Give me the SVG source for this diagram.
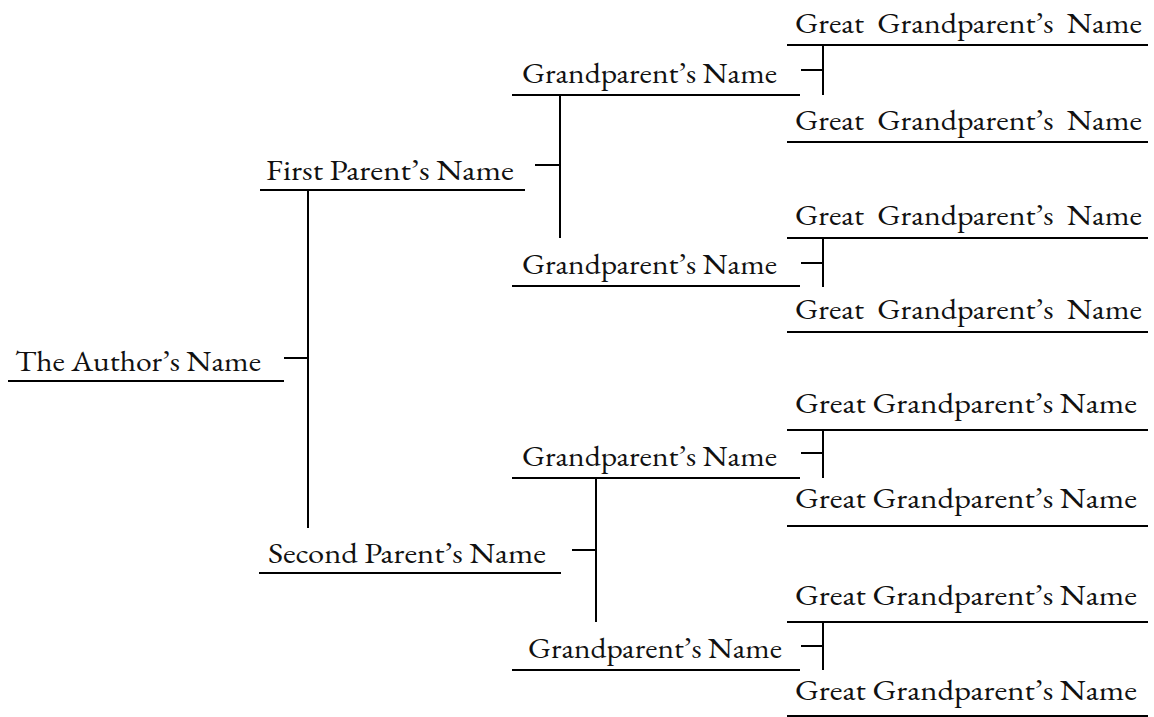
<svg xmlns="http://www.w3.org/2000/svg" width="1154" height="717" viewBox="0 0 1154 717">
  <style>
    .name { font-family: "EB Garamond", Garamond, "Liberation Serif", serif; font-size: 28px; fill: #111; }
    .rule { stroke: #000; stroke-width: 2; fill: none; }
    .link { stroke: #000; stroke-width: 2; fill: none; }
  </style>
  <rect width="1154" height="717" fill="#fff"/>

  <!-- generation 0 -->
  <g id="author">
    <text class="name" x="15" y="371" textLength="246" lengthAdjust="spacingAndGlyphs">The Author’s Name</text>
    <path class="rule" d="M8 381H284"/>
  </g>

  <!-- generation 1 -->
  <g id="parent-1">
    <text class="name" x="266" y="180" textLength="248" lengthAdjust="spacingAndGlyphs">First Parent’s Name</text>
    <path class="rule" d="M260 190H525"/>
  </g>
  <g id="parent-2">
    <text class="name" x="268" y="563" textLength="278" lengthAdjust="spacingAndGlyphs">Second Parent’s Name</text>
    <path class="rule" d="M259 573H561"/>
  </g>

  <!-- generation 2 -->
  <g id="grandparent-1">
    <text class="name" x="522" y="83" textLength="255" lengthAdjust="spacingAndGlyphs">Grandparent’s Name</text>
    <path class="rule" d="M512 95H800"/>
  </g>
  <g id="grandparent-2">
    <text class="name" x="522" y="274" textLength="255" lengthAdjust="spacingAndGlyphs">Grandparent’s Name</text>
    <path class="rule" d="M512 286H800"/>
  </g>
  <g id="grandparent-3">
    <text class="name" x="522" y="466" textLength="255" lengthAdjust="spacingAndGlyphs">Grandparent’s Name</text>
    <path class="rule" d="M512 478H800"/>
  </g>
  <g id="grandparent-4">
    <text class="name" x="528" y="658" textLength="254" lengthAdjust="spacingAndGlyphs">Grandparent’s Name</text>
    <path class="rule" d="M512 670H800"/>
  </g>

  <!-- generation 3 -->
  <g id="great-grandparent-1">
    <text class="name" x="795" y="33" textLength="347" lengthAdjust="spacingAndGlyphs" word-spacing="6">Great Grandparent’s Name</text>
    <path class="rule" d="M787 45H1148"/>
  </g>
  <g id="great-grandparent-2">
    <text class="name" x="795" y="130" textLength="347" lengthAdjust="spacingAndGlyphs" word-spacing="6">Great Grandparent’s Name</text>
    <path class="rule" d="M787 142H1148"/>
  </g>
  <g id="great-grandparent-3">
    <text class="name" x="795" y="225" textLength="347" lengthAdjust="spacingAndGlyphs" word-spacing="6">Great Grandparent’s Name</text>
    <path class="rule" d="M787 238H1148"/>
  </g>
  <g id="great-grandparent-4">
    <text class="name" x="795" y="319" textLength="347" lengthAdjust="spacingAndGlyphs" word-spacing="6">Great Grandparent’s Name</text>
    <path class="rule" d="M787 332H1148"/>
  </g>
  <g id="great-grandparent-5">
    <text class="name" x="795" y="413" textLength="342" lengthAdjust="spacingAndGlyphs">Great Grandparent’s Name</text>
    <path class="rule" d="M787 430H1148"/>
  </g>
  <g id="great-grandparent-6">
    <text class="name" x="795" y="508" textLength="342" lengthAdjust="spacingAndGlyphs">Great Grandparent’s Name</text>
    <path class="rule" d="M787 526H1148"/>
  </g>
  <g id="great-grandparent-7">
    <text class="name" x="795" y="605" textLength="342" lengthAdjust="spacingAndGlyphs">Great Grandparent’s Name</text>
    <path class="rule" d="M787 622H1148"/>
  </g>
  <g id="great-grandparent-8">
    <text class="name" x="795" y="700" textLength="342" lengthAdjust="spacingAndGlyphs">Great Grandparent’s Name</text>
    <path class="rule" d="M787 716H1148"/>
  </g>

  <!-- bracket connectors: a short tick from each child, a vertical joining its two parents -->
  <g id="connectors">
    <path class="link" d="M284 358H308M308 189V528"/>
    <path class="link" d="M535 165H560M560 95V238"/>
    <path class="link" d="M572 550H596M596 478V622"/>
    <path class="link" d="M801 70H823M823 45V95"/>
    <path class="link" d="M801 263H823M823 238V287"/>
    <path class="link" d="M801 453H823M823 430V478"/>
    <path class="link" d="M801 646H823M823 622V670"/>
  </g>
</svg>
